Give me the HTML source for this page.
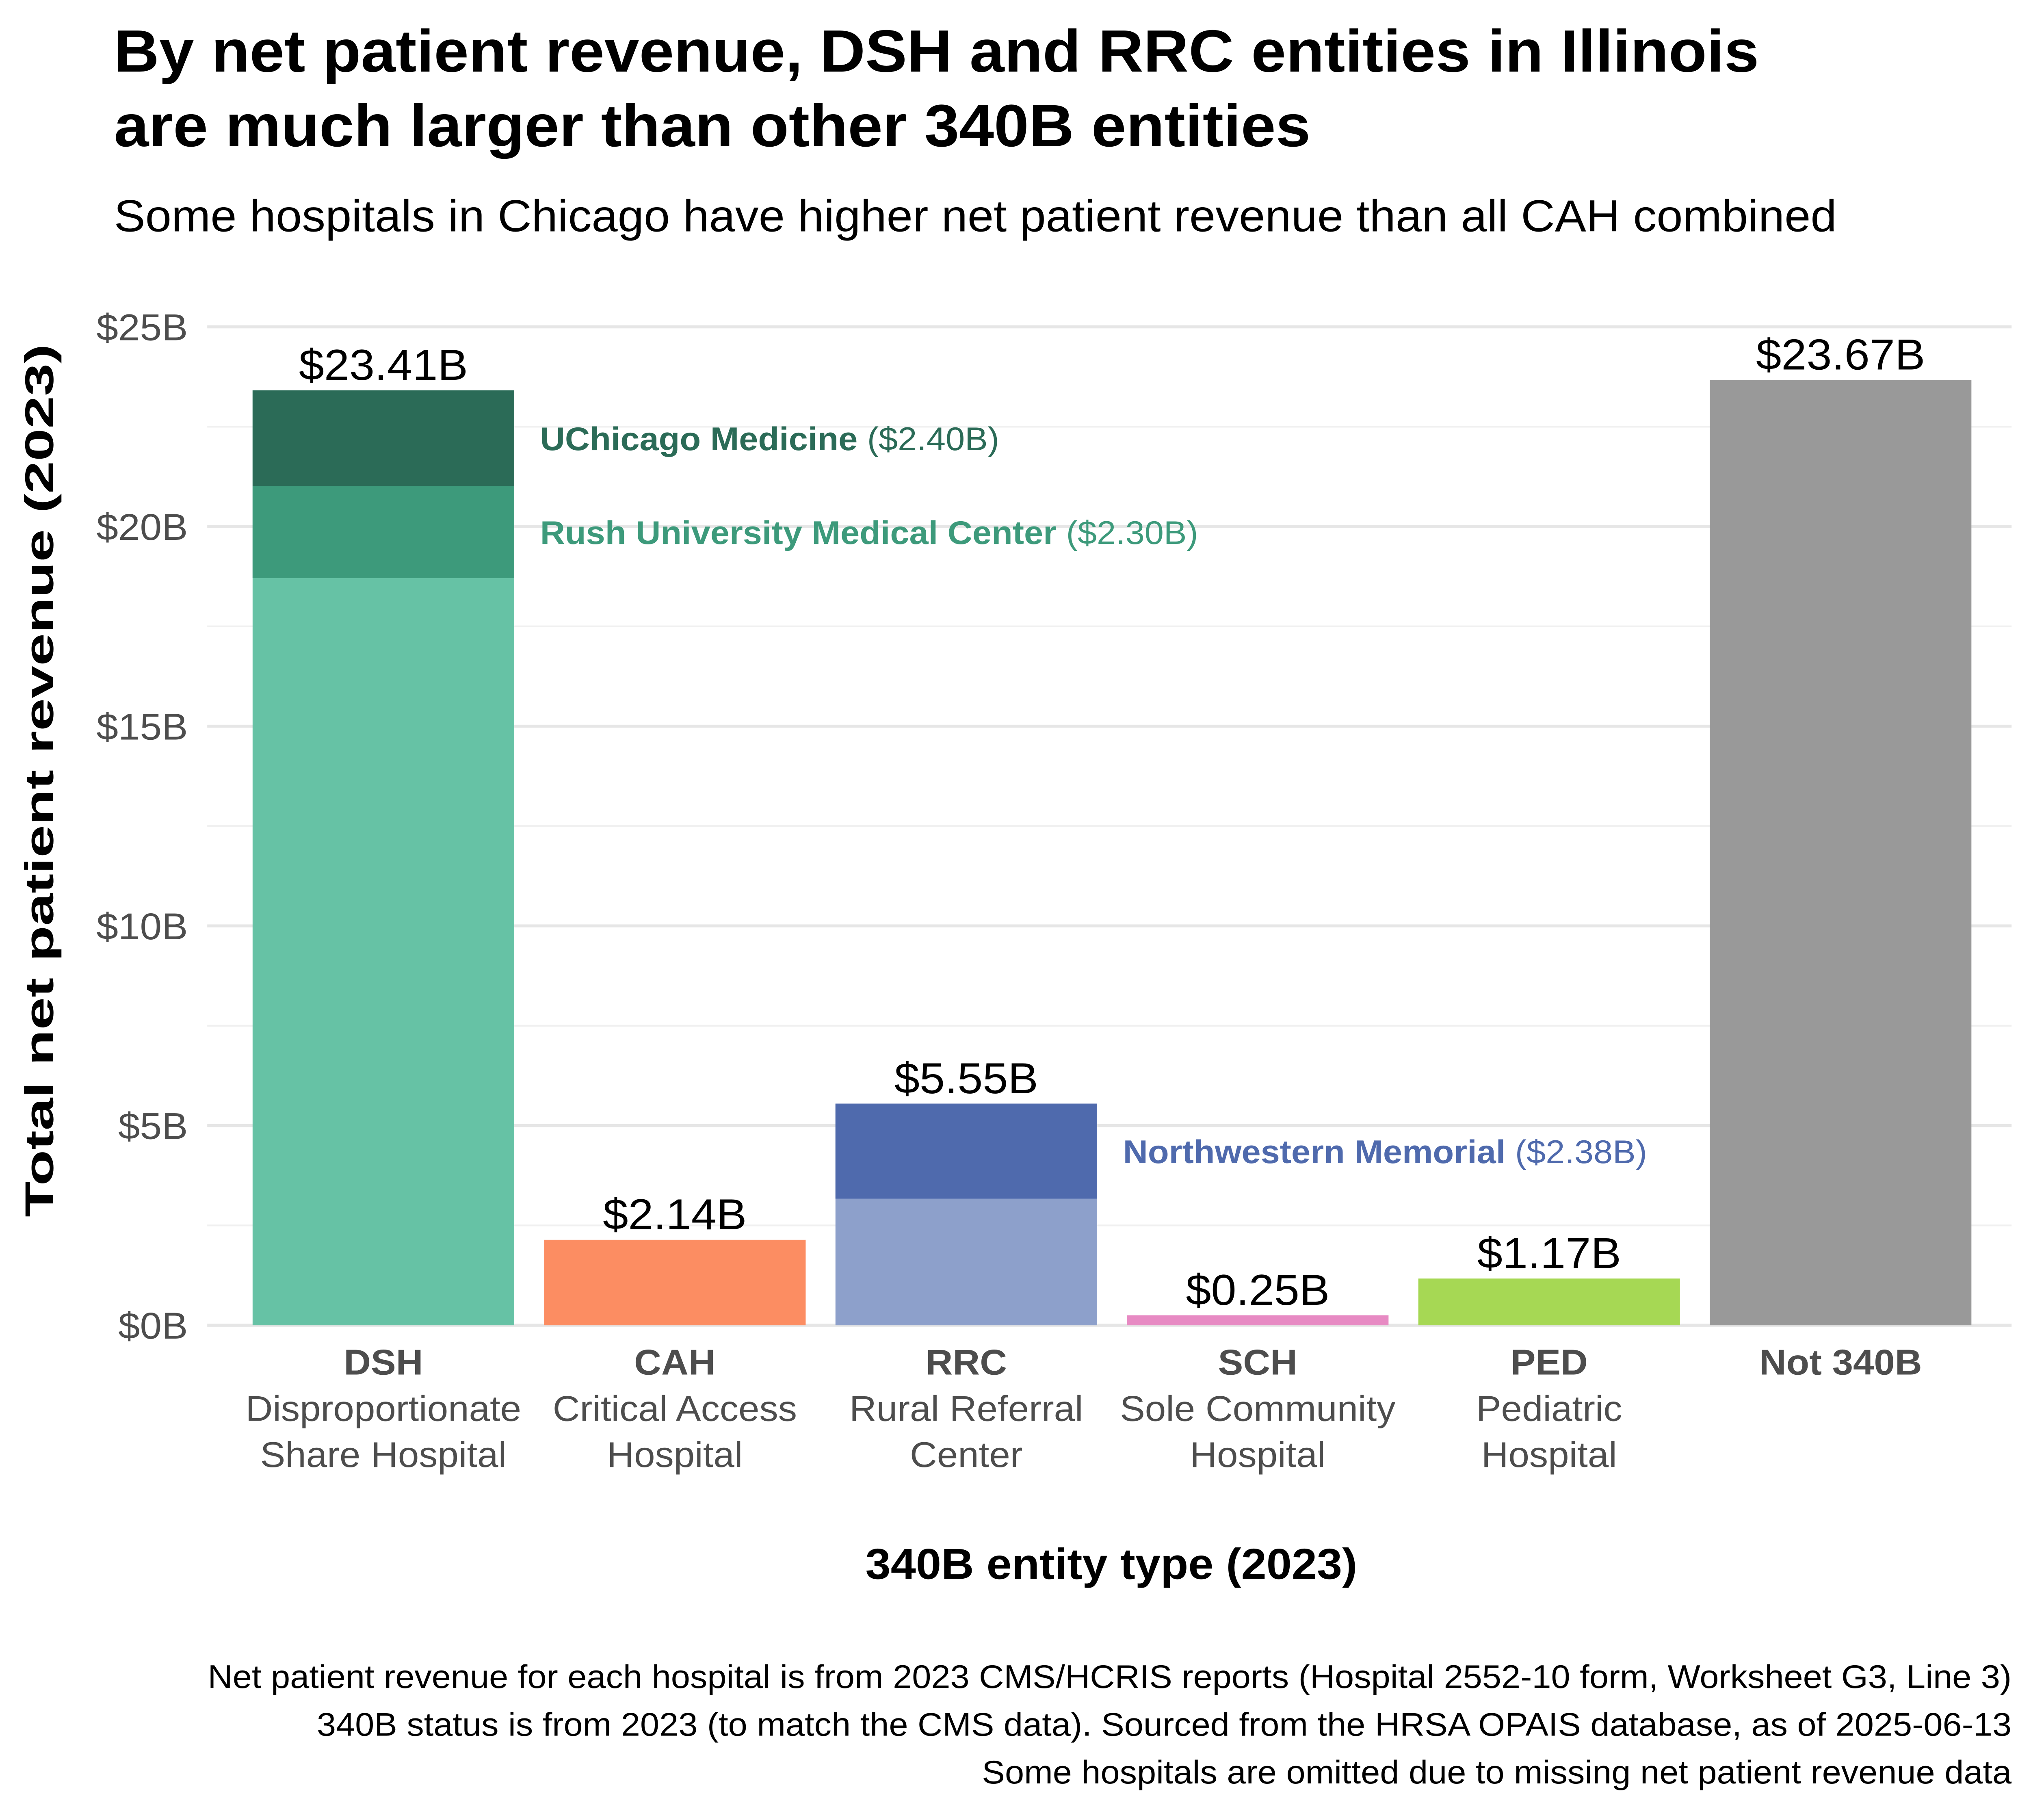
<!DOCTYPE html>
<html><head><meta charset="utf-8">
<style>
html,body{margin:0;padding:0;background:#fff;overflow:hidden;width:100vw;height:100vh;}
svg{display:block;width:100vw;height:100vh;font-family:"Liberation Sans",Arial,Helvetica,sans-serif;}
</style></head>
<body>
<svg id="chart" viewBox="0 0 1568 1219.5" preserveAspectRatio="none" xmlns="http://www.w3.org/2000/svg">
<rect width="1568" height="1219.5" fill="#fff"/>
<text id="t1" x="88" y="48" font-size="40" font-weight="bold" fill="#000">By net patient revenue, DSH and RRC entities in Illinois</text>
<text x="88" y="98" font-size="40" font-weight="bold" fill="#000">are much larger than other 340B entities</text>
<text id="t2" x="88" y="155" font-size="30" fill="#000">Some hospitals in Chicago have higher net patient revenue than all CAH combined</text>
<g id="grid"></g>
<g id="bars"></g>
<g id="labels"></g>
<text id="ytitle" font-weight="bold" transform="translate(41,523) rotate(-90)" text-anchor="middle" font-size="31" fill="#000">Total net patient revenue (2023)</text>
<text x="858" y="1058" text-anchor="middle" font-size="29" font-weight="bold" fill="#000">340B entity type (2023)</text>
<g font-size="22" fill="#000" text-anchor="end">
<text x="1553" y="1131">Net patient revenue for each hospital is from 2023 CMS/HCRIS reports (Hospital 2552-10 form, Worksheet G3, Line 3)</text>
<text x="1553" y="1163">340B status is from 2023 (to match the CMS data). Sourced from the HRSA OPAIS database, as of 2025-06-13</text>
<text x="1553" y="1195">Some hospitals are omitted due to missing net patient revenue data</text>
</g>
</svg>
<script>
const categories = ["DSH","CAH","RRC","SCH","PED","Not 340B"];
const descLine1 = ["Disproportionate","Critical Access","Rural Referral","Sole Community","Pediatric",""];
const descLine2 = ["Share Hospital","Hospital","Center","Hospital","Hospital",""];
const totals = [23.41, 2.14, 5.55, 0.25, 1.17, 23.67];
const totalLabels = ["$23.41B","$2.14B","$5.55B","$0.25B","$1.17B","$23.67B"];
const baseColors = ["#66c2a5","#fc8d62","#8da0cb","#e78ac3","#a6d854","#999999"];
const hospNames = ["UChicago Medicine","Rush University Medical Center","Northwestern Memorial"];
const hospCategory = [0, 0, 2];
const hospValues = [2.40, 2.30, 2.38];
const hospLabels = ["($2.40B)","($2.30B)","($2.38B)"];
const hospColors = ["#2b6b57","#3d9a7b","#4f6aad"];
const yTicks = [0,5,10,15,20,25];
const yTickLabels = ["$0B","$5B","$10B","$15B","$20B","$25B"];

const NS="http://www.w3.org/2000/svg";
const y0=888, pxPer=(888-219)/25;
function yScale(v){return y0 - v*pxPer;}
const bandStart=195, bandStep=225, barW=202;
function xScale(i){return bandStart + i*bandStep;}
function mk(tag,attrs,parent){const e=document.createElementNS(NS,tag);for(const k in attrs)e.setAttribute(k,attrs[k]);parent.appendChild(e);return e;}
const grid=document.getElementById('grid'), bars=document.getElementById('bars'), labels=document.getElementById('labels');

for(let v=2.5; v<25; v+=5){
  const l=mk('line',{x1:160,x2:1553,y1:yScale(v),y2:yScale(v),stroke:'#f0f0f0','stroke-width':1.2},grid);
  
  
}
yTicks.forEach((v,i)=>{
  const l=mk('line',{x1:160,x2:1553,y1:yScale(v),y2:yScale(v),stroke:'#e6e6e6','stroke-width':2},grid);
  
  
  const t=mk('text',{x:145,y:yScale(v)+9,'text-anchor':'end','font-size':25,fill:'#4d4d4d'},grid);
  t.textContent=yTickLabels[i];
  
  
});

categories.forEach((c,i)=>{
  const x=xScale(i);
  const r=mk('rect',{x:x,y:yScale(totals[i]),width:barW,height:yScale(0)-yScale(totals[i]),fill:baseColors[i]},bars);
  
  
  const t=mk('text',{x:x+barW/2,y:yScale(totals[i])-7,'text-anchor':'middle','font-size':29,fill:'#000'},labels);
  t.textContent=totalLabels[i];
  
  
  const cx=x+barW/2;
  const a=mk('text',{x:cx,y:921,'text-anchor':'middle','font-size':24,'font-weight':'bold',fill:'#4d4d4d'},labels);
  a.textContent=c;
  
  
  if(descLine1[i]){
    const b=mk('text',{x:cx,y:952,'text-anchor':'middle','font-size':24,fill:'#4d4d4d'},labels);
    b.textContent=descLine1[i];
    
    
    const d=mk('text',{x:cx,y:983,'text-anchor':'middle','font-size':24,fill:'#4d4d4d'},labels);
    d.textContent=descLine2[i];
    
    
  }
});

const topAcc={};
hospNames.forEach((n,j)=>{
  const ci=hospCategory[j];
  const top = topAcc[ci]!==undefined ? topAcc[ci] : totals[ci];
  const bottom = top - hospValues[j];
  topAcc[ci]=bottom;
  const x=xScale(ci);
  const r=mk('rect',{x:x,y:yScale(top),width:barW,height:yScale(bottom)-yScale(top),fill:hospColors[j]},bars);
  
  
  const ly = yScale(top) + (yScale(bottom)-yScale(top))*0.5 + 8;
  const t=mk('text',{x:x+barW+20,y:ly,'font-size':22,'font-weight':'bold',fill:hospColors[j]},labels);
  
  
  const s1=mk('tspan',{},t); s1.textContent=n+' ';
  const s2=mk('tspan',{'font-weight':'normal'},t); s2.textContent=hospLabels[j];
});

(function(){
  const t1=document.getElementById('t1'), t2=document.getElementById('t2');
  const w1=t1.getComputedTextLength(), w2=t2.getComputedTextLength();
  const kB = w1>0 ? 1270/w1 : 1, kR = w2>0 ? 1330/w2 : 1;
  document.querySelectorAll('#chart text').forEach(t=>{
    const w=t.getComputedTextLength();
    if(!w) return;
    const k = t.getAttribute('font-weight')==='bold' ? kB : kR;
    if(Math.abs(k-1)<0.02) return;
    t.setAttribute('textLength', (w*k).toFixed(2));
    t.setAttribute('lengthAdjust','spacingAndGlyphs');
  });
  const yt=document.getElementById('ytitle');
  yt.setAttribute('textLength','585');
  yt.setAttribute('lengthAdjust','spacingAndGlyphs');
})();
</script>
</body></html>
